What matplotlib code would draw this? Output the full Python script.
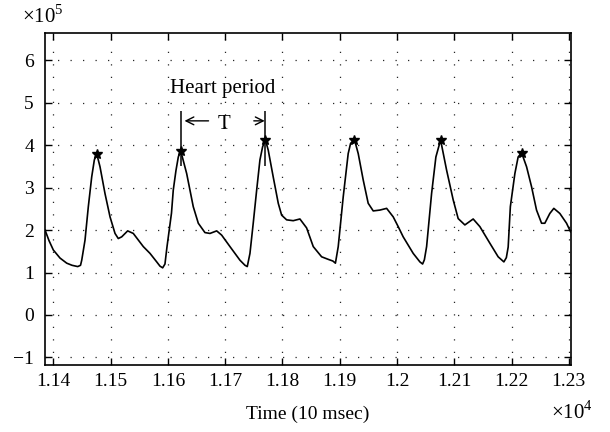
import numpy as np
import matplotlib.pyplot as plt
from matplotlib.ticker import FuncFormatter

# signal (time in 10 msec, amplitude in units of 1e5)
time = [11385.5, 11392.5, 11400, 11411.7, 11423.4, 11432.6, 11442.6, 11447.5, 11449.6, 11455.3,
        11461.1, 11467, 11471.6, 11475.7, 11481.5, 11490.2, 11499, 11507.7, 11513.4, 11519.4,
        11529.8, 11539.6, 11557.1, 11568.8, 11580.5, 11586.2, 11590.9, 11594.9, 11598.4, 11606.3,
        11609.4, 11614.1, 11618.2, 11622.3, 11632.8, 11644.3, 11653.1, 11664.7, 11673.5, 11685.2,
        11693.9, 11708.4, 11725.8, 11734.6, 11738.6, 11743.3, 11749, 11755, 11760.7, 11765.4,
        11770.3, 11775.2, 11783.9, 11792.7, 11798.6, 11807.3, 11818.8, 11830.5, 11842.2, 11853.8,
        11868.4, 11879.9, 11888.1, 11892.5, 11897.4, 11906.1, 11914.8, 11919, 11925.7, 11932.3,
        11941, 11949.7, 11958.5, 11970.2, 11981.9, 11993.4, 12002.1, 12010.8, 12028.3, 12040,
        12044.7, 12047.8, 12051.7, 12060.4, 12067.9, 12076.1, 12086.6, 12098.1, 12106.8, 12118.5,
        12133, 12144.7, 12162.1, 12176.6, 12186.6, 12190.9, 12194.1, 12197.9, 12205.8, 12211.5,
        12217.5, 12226.2, 12234.9, 12243.6, 12252.4, 12258.1, 12266.8, 12273.8, 12284.3, 12296,
        12303]
amp = [2.00, 1.75, 1.53, 1.34, 1.22, 1.17, 1.14, 1.17, 1.29, 1.76,
       2.55, 3.25, 3.65, 3.80, 3.49, 2.86, 2.31, 1.92, 1.80, 1.84,
       1.98, 1.92, 1.61, 1.45, 1.25, 1.15, 1.11, 1.20, 1.60, 2.40,
       2.94, 3.40, 3.72, 3.87, 3.33, 2.55, 2.16, 1.94, 1.92, 1.98,
       1.88, 1.61, 1.29, 1.17, 1.14, 1.45, 2.16, 2.94, 3.65, 3.96,
       4.12, 3.88, 3.25, 2.63, 2.35, 2.24, 2.22, 2.26, 2.05, 1.61,
       1.37, 1.31, 1.27, 1.22, 1.61, 2.78, 3.80, 4.04, 4.13, 3.80,
       3.18, 2.63, 2.45, 2.47, 2.51, 2.31, 2.08, 1.84, 1.45, 1.25,
       1.20, 1.30, 1.61, 2.86, 3.72, 4.12, 3.41, 2.71, 2.27, 2.12,
       2.26, 2.08, 1.69, 1.37, 1.25, 1.35, 1.60, 2.55, 3.33, 3.72,
       3.82, 3.49, 3.02, 2.47, 2.16, 2.16, 2.39, 2.51, 2.39, 2.16,
       1.96]

peak_t = [11475.7, 11622.3, 11770.3, 11925.7, 12076.1, 12217.5]
peak_a = [3.80, 3.87, 4.12, 4.13, 4.12, 3.82]

xticks = [11400, 11500, 11600, 11700, 11800, 11900, 12000, 12100, 12200, 12300]
yticks = [-1, 0, 1, 2, 3, 4, 5, 6]


def fmt(v, scale):
    s = '%g' % round(v / scale, 4)
    return s.replace('-', '\u2212')


plt.rcParams['font.family'] = ['Liberation Serif', 'DejaVu Serif']
plt.rcParams['font.size'] = 14
plt.rcParams['mathtext.fontset'] = 'custom'
plt.rcParams['mathtext.rm'] = 'Liberation Serif'

fig = plt.figure(figsize=(6.1, 4.32), dpi=100)
ax = fig.add_axes([0.0738, 0.1558, 0.862, 0.767])

ax.plot(time, np.array(amp) * 1e5, color='black', lw=1.2)
ax.plot(peak_t, np.array(peak_a) * 1e5, ls='none', marker='*', color='black', ms=7)

ax.set_xlim(11385.5, 12303.5)
ax.set_ylim(-1.17e5, 6.63e5)
ax.set_xticks(xticks)
ax.set_yticks(np.array(yticks) * 1e5)
ax.xaxis.set_major_formatter(FuncFormatter(lambda v, p: fmt(v, 1e4)))
ax.yaxis.set_major_formatter(FuncFormatter(lambda v, p: fmt(v, 1e5)))
ax.tick_params(direction='in', top=True, right=True, length=5, width=1, labelsize=14)
ax.tick_params(axis='x', pad=6)
ax.tick_params(axis='y', pad=8)
ax.grid(True, ls=(0, (1, 9)), color='0.15', lw=0.9)
for s in ax.spines.values():
    s.set_linewidth(1.2)

# heart period annotation
ax.vlines([peak_t[1], peak_t[2]], 3.51e5, 4.81e5, color='black', lw=1.1)
ax.annotate('', xy=(11629, 4.57e5), xytext=(11671, 4.57e5),
            arrowprops=dict(arrowstyle='->', lw=1.0, color='black', shrinkA=0, shrinkB=0))
ax.annotate('', xy=(11769, 4.57e5), xytext=(11750, 4.57e5),
            arrowprops=dict(arrowstyle='->', lw=1.0, color='black', shrinkA=0, shrinkB=0))
ax.text(11698, 4.37e5, 'T', ha='center', va='baseline', fontsize=15)
ax.text(11696, 5.23e5, 'Heart period', ha='center', va='baseline', fontsize=15)

fig.text(0.036, 0.947, '\u00d710$^5$', ha='left', va='baseline', fontsize=15)
fig.text(0.504, 0.03, 'Time (10 msec)', ha='center', va='baseline', fontsize=14)
fig.text(0.903, 0.03, '\u00d710$^4$', ha='left', va='baseline', fontsize=15)

fig.savefig('out.png', dpi=100)
